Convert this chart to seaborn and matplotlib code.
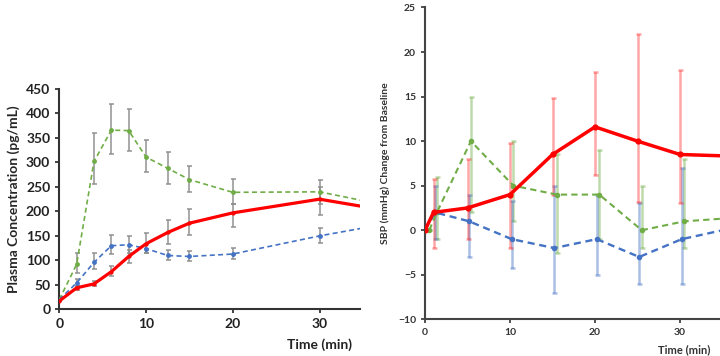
import numpy as np
import pandas as pd
import seaborn as sns
import matplotlib.pyplot as plt

# left panel: plasma concentration (pg/mL)
t_pk = [0, 2, 4, 6, 8, 10, 12.5, 15, 20, 30, 35]
green_pk = [20, 92, 302, 366, 365, 311, 288, 265, 239, 240, 222]
green_pk_lo = [20, 75, 255, 318, 323, 280, 256, 240, 215, 215, 222]
green_pk_hi = [20, 115, 360, 420, 409, 345, 322, 293, 266, 265, 222]
blue_pk = [20, 54, 96, 130, 132, 124, 110, 108, 113, 150, 166]
blue_pk_lo = [20, 46, 83, 113, 115, 115, 100, 98, 102, 135, 166]
blue_pk_hi = [20, 62, 115, 151, 150, 133, 122, 120, 126, 167, 166]
red_pk = [17, 44, 52, 77, 108, 134, 157, 176, 197, 225, 210]
red_pk_lo = [17, 40, 47, 68, 95, 115, 133, 152, 168, 193, 210]
red_pk_hi = [17, 48, 57, 88, 122, 155, 183, 205, 215, 250, 210]

# right panel: SBP change from baseline (mmHg)
t_red = [0, 1, 5, 10, 15, 20, 25, 30, 35]
red_sbp = [0, 2, 2.5, 4, 8.5, 11.6, 10, 8.5, 8.35]
red_sbp_lo = [0, -2, -1, -2, 4, 6.2, 3.2, 3, 8.35]
red_sbp_hi = [0, 5.8, 8, 9.8, 14.8, 17.8, 22, 18, 8.35]
t_green = [0.5, 1.4, 5.4, 10.4, 15.5, 20.5, 25.5, 30.5, 35]
green_sbp = [0, 2, 10, 5, 4, 4, 0, 1, 1.3]
green_sbp_lo = [0, -1, 2, 1, -2.5, -1, -2, -2, 1.3]
green_sbp_hi = [0, 6, 15, 10, 8.5, 9, 5, 8, 1.3]
t_blue = [0, 1.2, 5.2, 10.2, 15.2, 20.2, 25.2, 30.2, 35]
blue_sbp = [0, 2, 1, -1, -2, -1, -3, -1, 0]
blue_sbp_lo = [0, -1, -3, -4.2, -7, -5, -6, -6, 0]
blue_sbp_hi = [0, 5, 4, 3.3, 5, 4, 3, 7, 0]

GREEN = "#70AD47"
BLUE = "#4472C4"
RED = "#FF0000"

sns.set_style("ticks")
plt.rcParams["font.family"] = ["Lato", "DejaVu Sans"]

fig = plt.figure(figsize=(7.2, 3.56), dpi=100)
ax1 = fig.add_axes([59.3 / 720, 0.131, 301 / 720, 0.619])
ax2 = fig.add_axes([425 / 720, 0.103, 295 / 720, 0.876])


def draw(ax, x, y, lo, hi, color, ls, lw, ecolor, ealpha, elw, ms):
    y = np.array(y)
    yerr = [y - np.array(lo), np.array(hi) - y]
    ax.errorbar(x[:-1], y[:-1], yerr=[yerr[0][:-1], yerr[1][:-1]], fmt="none",
                ecolor=ecolor, alpha=ealpha, elinewidth=elw, capsize=1.8,
                capthick=elw, zorder=2)
    df = pd.DataFrame({"x": x, "y": y})
    sns.lineplot(data=df, x="x", y="y", ax=ax, color=color, linestyle=ls,
                 linewidth=lw, marker="o", markersize=ms, markeredgewidth=0,
                 markevery=slice(0, len(x) - 1), zorder=3)


draw(ax1, t_pk, green_pk, green_pk_lo, green_pk_hi, GREEN, (0, (3, 2)), 1.2, "#8c8c8c", 0.8, 1.3, 3.5)
draw(ax1, t_pk, blue_pk, blue_pk_lo, blue_pk_hi, BLUE, (0, (3, 2)), 1.2, "#8c8c8c", 0.8, 1.3, 3.5)
draw(ax1, t_pk, red_pk, red_pk_lo, red_pk_hi, RED, "-", 2.3, "#8c8c8c", 0.8, 1.3, 3)

draw(ax2, t_green, green_sbp, green_sbp_lo, green_sbp_hi, GREEN, (0, (3, 2)), 1.5, GREEN, 0.45, 1.8, 4)
draw(ax2, t_blue, blue_sbp, blue_sbp_lo, blue_sbp_hi, BLUE, (0, (3, 2)), 1.7, BLUE, 0.45, 1.8, 4)
draw(ax2, t_red, red_sbp, red_sbp_lo, red_sbp_hi, RED, "-", 2.5, RED, 0.35, 1.8, 4.5)

ax1.set_xlim(0, 34.7)
ax1.set_ylim(0, 450)
ax1.set_xticks([0, 10, 20, 30])
ax1.set_yticks(range(0, 451, 50))
ax1.set_xlabel("")
ax1.set_ylabel("Plasma Concentration (pg/mL)", fontsize=10, fontweight="bold", labelpad=4)
ax1.tick_params(labelsize=10, length=3, width=1.2, colors="#222222")
for lab in ax1.get_xticklabels() + ax1.get_yticklabels():
    lab.set_fontweight("bold")
sns.despine(ax=ax1)
for s in ["left", "bottom"]:
    ax1.spines[s].set_linewidth(1.5)
    ax1.spines[s].set_color("#333333")

ax2.set_xlim(0, 34.7)
ax2.set_ylim(-10, 25)
ax2.set_xticks([0, 10, 20, 30])
ax2.set_yticks(range(-10, 26, 5))
ax2.set_xlabel("")
ax2.set_ylabel("SBP (mmHg) Change from Baseline", fontsize=7.5, fontweight="bold",
               color="#333333", labelpad=6)
ax2.tick_params(labelsize=7.5, length=3, width=1.2, colors="#333333")
for lab in ax2.get_xticklabels() + ax2.get_yticklabels():
    lab.set_fontweight("bold")
sns.despine(ax=ax2)
for s in ["left", "bottom"]:
    ax2.spines[s].set_linewidth(1.5)
    ax2.spines[s].set_color("#444444")

fig.text(352 / 720, 1 - 345 / 356, "Time (min)", ha="right", va="center",
         fontsize=10, fontweight="bold", color="#222222")
fig.text(710 / 720, 1 - 350 / 356, "Time (min)", ha="right", va="center",
         fontsize=8, fontweight="bold", color="#333333")

fig.savefig("out.png", dpi=100)
